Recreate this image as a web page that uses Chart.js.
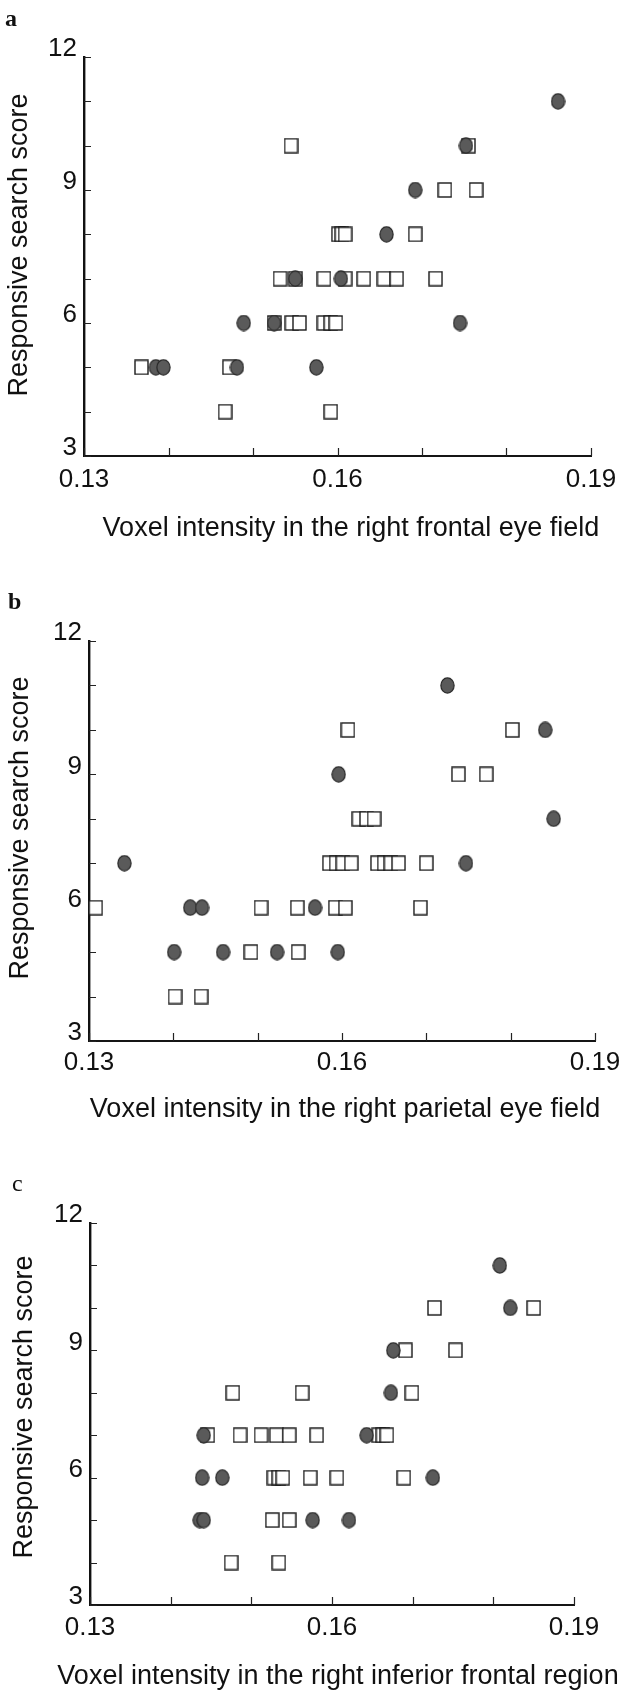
<!DOCTYPE html>
<html><head><meta charset="utf-8">
<script src="https://cdn.jsdelivr.net/npm/chart.js@4.4.1/dist/chart.umd.min.js"></script>
<style>
html,body{margin:0;padding:0;background:#fff;width:620px;height:1690px;overflow:hidden;}
body{position:relative;}
canvas{position:absolute;left:0;}
.lbl{position:absolute;font-family:"Liberation Serif",serif;font-size:24px;line-height:24px;color:#111;}
.xt,.yt{position:absolute;font-family:"Liberation Sans",Arial,sans-serif;font-size:27px;line-height:27px;color:#111;white-space:nowrap;}
.xt{transform:translate(-50%,-50%);}
.yt{transform:translate(-50%,-50%) rotate(-90deg);}
</style></head><body>
<canvas id="ca" width="620" height="552" style="top:0px"></canvas>
<canvas id="cb" width="620" height="531" style="top:580px"></canvas>
<canvas id="cc" width="620" height="505" style="top:1160px"></canvas>
<div class="lbl" id="la" style="left:5px;top:6px;font-weight:bold"></div>
<div class="lbl" id="lb" style="left:8px;top:589px;font-weight:bold"></div>
<div class="lbl" id="lc" style="left:12px;top:1171px"></div>
<div class="xt" id="xa" style="left:351px;top:527px"></div>
<div class="xt" id="xb" style="left:345px;top:1108px"></div>
<div class="xt" id="xc" style="left:338px;top:1675px"></div>
<div class="yt" id="ya" style="left:18px;top:245px"></div>
<div class="yt" id="yb" style="left:19px;top:828px"></div>
<div class="yt" id="yc" style="left:23px;top:1407px"></div>
<script>
// ---- text ----
const panelLetters = ['a', 'b', 'c'];
const xTitles = [
  'Voxel intensity in the right frontal eye field',
  'Voxel intensity in the right parietal eye field',
  'Voxel intensity in the right inferior frontal region'
];
const yTitle = 'Responsive search score';
const xTickLabels = ['0.13', '0.16', '0.19'];
const yTickLabels = ['3', '6', '9', '12'];

// ---- panel a: right frontal eye field ----
const fefCircleX = [0.1861, 0.1752, 0.1692, 0.1658, 0.1550, 0.1604, 0.1489, 0.1525, 0.1745, 0.1385, 0.1394, 0.1481, 0.1575];
const fefCircleY = [11, 10, 9, 8, 7, 7, 6, 6, 6, 5, 5, 5, 5];
const fefSquareX = [0.1545, 0.1755, 0.1727, 0.1764, 0.1601, 0.1605, 0.1609, 0.1692, 0.1532, 0.1550, 0.1584, 0.1609, 0.1631, 0.1655, 0.1670, 0.1716, 0.1525, 0.1546, 0.1555, 0.1584, 0.1592, 0.1598, 0.1368, 0.1472, 0.1467, 0.1592];
const fefSquareY = [10, 10, 9, 9, 8, 8, 8, 8, 7, 7, 7, 7, 7, 7, 7, 7, 6, 6, 6, 6, 6, 6, 5, 5, 4, 4];

// ---- panel b: right parietal eye field ----
const pefCircleX = [0.1725, 0.1841, 0.1596, 0.1851, 0.1342, 0.1747, 0.1420, 0.1434, 0.1568, 0.1401, 0.1459, 0.1523, 0.1595];
const pefCircleY = [11, 10, 9, 8, 7, 7, 6, 6, 6, 5, 5, 5, 5];
const pefSquareX = [0.1607, 0.1802, 0.1738, 0.1771, 0.1620, 0.1629, 0.1638, 0.1585, 0.1593, 0.1601, 0.1611, 0.1642, 0.1650, 0.1658, 0.1667, 0.1700, 0.1308, 0.1504, 0.1547, 0.1592, 0.1604, 0.1693, 0.1492, 0.1548, 0.1402, 0.1433];
const pefSquareY = [10, 10, 9, 9, 8, 8, 8, 7, 7, 7, 7, 7, 7, 7, 7, 7, 6, 6, 6, 6, 6, 6, 5, 5, 4, 4];

// ---- panel c: right inferior frontal region ----
const ifrCircleX = [0.1808, 0.1821, 0.1676, 0.1673, 0.1441, 0.1643, 0.1439, 0.1464, 0.1725, 0.1436, 0.1441, 0.1576, 0.1621];
const ifrCircleY = [11, 10, 9, 8, 7, 7, 6, 6, 6, 5, 5, 5, 5];
const ifrSquareX = [0.1727, 0.1850, 0.1691, 0.1753, 0.1477, 0.1563, 0.1699, 0.1446, 0.1486, 0.1512, 0.1531, 0.1547, 0.1581, 0.1658, 0.1663, 0.1668, 0.1528, 0.1534, 0.1539, 0.1573, 0.1606, 0.1689, 0.1526, 0.1547, 0.1475, 0.1534];
const ifrSquareY = [10, 10, 9, 9, 8, 8, 8, 7, 7, 7, 7, 7, 7, 7, 7, 7, 6, 6, 6, 6, 6, 6, 5, 5, 4, 4];

// ---- text into DOM ----
['la','lb','lc'].forEach((id,i)=>document.getElementById(id).textContent = panelLetters[i]);
['xa','xb','xc'].forEach((id,i)=>document.getElementById(id).textContent = xTitles[i]);
['ya','yb','yc'].forEach(id=>document.getElementById(id).textContent = yTitle);

// ---- marker images ----
function makeCircle() {
  const c = document.createElement('canvas'); c.width = 15; c.height = 17;
  const g = c.getContext('2d');
  g.beginPath(); g.ellipse(7.5, 8.5, 6.6, 7.6, 0, 0, Math.PI * 2);
  g.fillStyle = '#5a5a5a'; g.fill();
  g.lineWidth = 1.2; g.strokeStyle = '#262626'; g.stroke();
  return c;
}
function makeSquare() {
  const c = document.createElement('canvas'); c.width = 15; c.height = 16;
  const g = c.getContext('2d');
  g.fillStyle = '#fff'; g.fillRect(1, 1, 13, 14);
  g.lineWidth = 1.4; g.strokeStyle = '#1a1a1a'; g.strokeRect(1, 1, 13, 14);
  return c;
}
const circleImg = makeCircle();
const squareImg = makeSquare();

const zip = (xs, ys) => xs.map((x, i) => ({x: x, y: ys[i]}));

const innerTicks = {
  id: 'innerTicks',
  beforeDatasetsDraw(chart) {
    const {ctx, chartArea: a, scales: {x, y}} = chart;
    ctx.save();
    ctx.strokeStyle = '#222'; ctx.lineWidth = 1.2;
    ctx.beginPath();
    x.ticks.forEach(t => { const px = Math.round(x.getPixelForValue(t.value)) + 0.5; ctx.moveTo(px, a.bottom); ctx.lineTo(px, a.bottom - 8); });
    y.ticks.forEach(t => { const py = Math.round(y.getPixelForValue(t.value)) + 0.5; ctx.moveTo(a.left, py); ctx.lineTo(a.left + 7, py); });
    ctx.stroke();
    ctx.restore();
  }
};

function makeChart(id, cfg) {
  new Chart(document.getElementById(id), {
    type: 'scatter',
    data: { datasets: [
      { label: 'filled', data: zip(cfg.cx, cfg.cy), pointStyle: circleImg, pointRadius: 7, order: 0, clip: false },
      { label: 'open', data: zip(cfg.sx, cfg.sy), pointStyle: squareImg, pointRadius: 7, order: 1, clip: false }
    ]},
    options: {
      responsive: false, animation: false, events: [],
      layout: { padding: { left: 0, right: cfg.padR, top: cfg.padT, bottom: 0 } },
      plugins: { legend: { display: false }, tooltip: { enabled: false } },
      scales: {
        x: {
          type: 'linear', min: 0.13, max: 0.19,
          grid: { display: false, drawTicks: false },
          border: { display: true, color: '#151515', width: 2 },
          ticks: {
            stepSize: 0.01, autoSkip: false, maxRotation: 0, minRotation: 0, padding: cfg.xPad, color: '#111',
            font: { family: 'Liberation Sans', size: 26 },
            callback: v => { const s = Number(v).toFixed(2); return xTickLabels.includes(s) ? s : ''; }
          },
          afterFit: s => { s.height = cfg.xH; s.paddingLeft = 0; s.paddingRight = 0; }
        },
        y: {
          type: 'linear', min: 3, max: 12,
          grid: { display: false, drawTicks: false },
          border: { display: true, color: '#111', width: 2.4 },
          ticks: {
            stepSize: 1, autoSkip: false, padding: 7, labelOffset: -8, color: '#111',
            font: { family: 'Liberation Sans', size: 26 },
            callback: v => { const s = String(v); return yTickLabels.includes(s) ? s : ''; }
          },
          afterFit: s => { s.width = cfg.left; s.paddingTop = 0; s.paddingBottom = 0; }
        }
      }
    },
    plugins: [innerTicks]
  });
}

makeChart('ca', { cx: fefCircleX, cy: fefCircleY, sx: fefSquareX, sy: fefSquareY, left: 84, padR: 29, padT: 57, xH: 96, xPad: 8 });
makeChart('cb', { cx: pefCircleX, cy: pefCircleY, sx: pefSquareX, sy: pefSquareY, left: 89, padR: 25, padT: 61, xH: 70, xPad: 6 });
makeChart('cc', { cx: ifrCircleX, cy: ifrCircleY, sx: ifrSquareX, sy: ifrSquareY, left: 90, padR: 46, padT: 63, xH: 60, xPad: 7 });
</script>
</body></html>
